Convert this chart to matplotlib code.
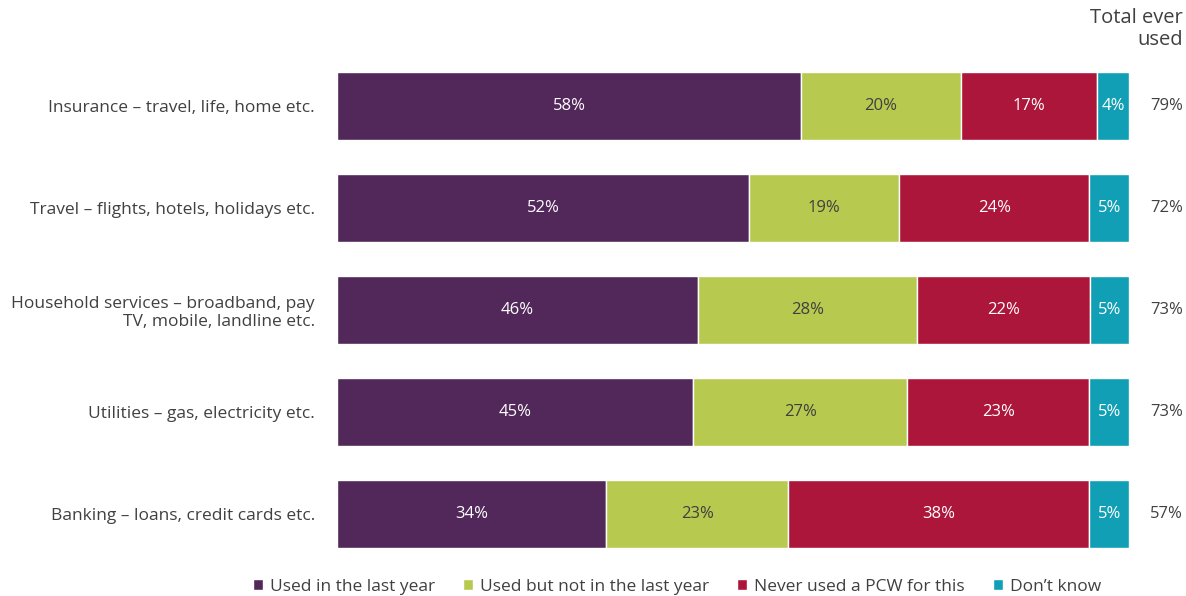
#!/usr/bin/env python3
# Stacked bars: use of price comparison websites by product category
import matplotlib.pyplot as plt
import numpy as np

categories = ["Insurance – travel, life, home etc.",
              "Travel – flights, hotels, holidays etc.",
              "Household services – broadband, pay\nTV, mobile, landline etc.",
              "Utilities – gas, electricity etc.",
              "Banking – loans, credit cards etc."]
series = ["Used in the last year", "Used but not in the last year",
          "Never used a PCW for this", "Don’t know"]
used_last_year = [58, 52, 46, 45, 34]
used_not_last_year = [20, 19, 28, 27, 23]
never_used = [17, 24, 22, 23, 38]
dont_know = [4, 5, 5, 5, 5]
total_ever_used = [79, 72, 73, 73, 57]

colors = ["#52285a", "#b7c94f", "#ad163b", "#109fb4"]
text_colors = ["white", "#404040", "white", "white"]
grey = "#404040"

plt.rcParams['font.family'] = ['Open Sans', 'DejaVu Sans']

fig = plt.figure(figsize=(11.86, 5.96), dpi=100)
ax = fig.add_axes([337/1186, 1-565/596, 792/1186, 510/596])

vals = np.array([used_last_year, used_not_last_year, never_used, dont_know], dtype=float)
# rows shown in the picture all fill the full width, so scale each to 100
widths = vals / vals.sum(axis=0) * 100
y = np.arange(len(categories))
left = np.zeros(len(categories))
for i in range(len(series)):
    ax.barh(y, widths[i], left=left, height=0.66, color=colors[i],
            edgecolor="white", linewidth=1, label=series[i])
    for j in range(len(categories)):
        ax.text(left[j] + widths[i][j]/2, y[j], "%d%%" % vals[i][j],
                ha="center", va="center", fontsize=12, color=text_colors[i])
    left += widths[i]

for j in range(len(categories)):
    ax.text(1.047, y[j], "%d%%" % total_ever_used[j], transform=ax.get_yaxis_transform(),
            ha="center", va="center", fontsize=12, color=grey)

ax.set_xlim(0, 100)
ax.set_ylim(len(categories)-0.5, -0.5)
ax.set_yticks(y)
ax.set_yticklabels(categories, fontsize=12.5, color=grey)
ax.tick_params(axis="y", length=0, pad=16)
ax.set_xticks([])
for s in ax.spines.values():
    s.set_visible(False)

fig.text(1183/1186, 1-8/596, "Total ever\nused", ha="right", va="top",
         fontsize=14.5, color=grey, linespacing=1.15)

leg = fig.legend(loc="center", bbox_to_anchor=(677/1186, 1-587/596), ncol=4,
                 frameon=False, fontsize=12.5, handlelength=0.6, handleheight=0.6,
                 handletextpad=0.4, columnspacing=1.6)
for t in leg.get_texts():
    t.set_color(grey)

plt.savefig("out.png", dpi=100)
